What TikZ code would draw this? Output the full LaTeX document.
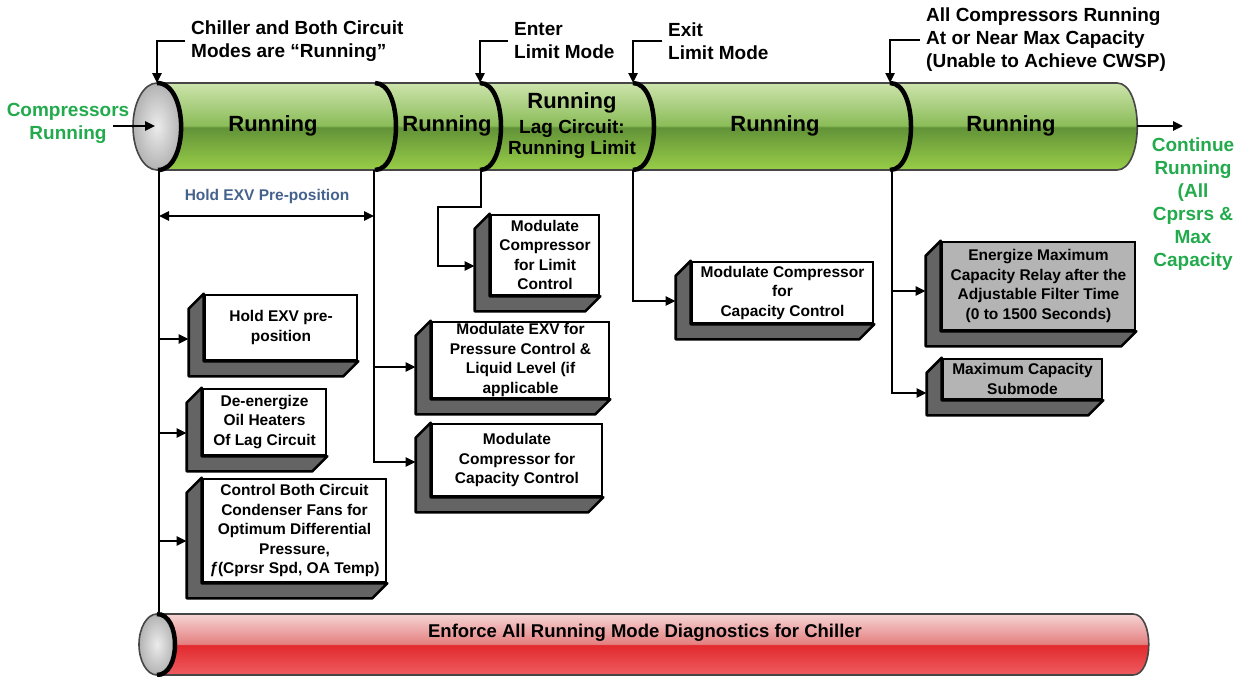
\documentclass[tikz,border=0pt]{standalone}
\usepackage{fontspec}
\setmainfont{Liberation Sans}
\usetikzlibrary{calc,arrows.meta}

% palette
\definecolor{lblgreen}{RGB}{34,170,76}
\definecolor{holdblue}{RGB}{68,98,140}
\definecolor{sidegray}{RGB}{100,100,100}
\definecolor{boxgray}{RGB}{180,180,180}
\definecolor{rimgray}{RGB}{70,70,70}
\definecolor{gTop}{RGB}{205,228,172}
\definecolor{gMid}{RGB}{138,188,88}
\definecolor{gDark}{RGB}{98,146,56}
\definecolor{gBot}{RGB}{152,206,72}
\definecolor{rTop}{RGB}{246,212,212}
\definecolor{rMid}{RGB}{228,128,128}
\definecolor{rDark}{RGB}{226,42,46}
\definecolor{rBot}{RGB}{238,92,96}

% glossy tube shadings (bottom to top)
\pgfdeclareverticalshading{greentube}{100bp}{color(0bp)=(gBot); color(25bp)=(gBot); color(49.5bp)=(gDark); color(50.5bp)=(gMid); color(75bp)=(gTop); color(100bp)=(gTop)}
\pgfdeclareverticalshading{redtube}{100bp}{color(0bp)=(rBot); color(25bp)=(rBot); color(49.5bp)=(rDark); color(50.5bp)=(rMid); color(75bp)=(rTop); color(100bp)=(rTop)}

\newcommand\setfs[2]{\fontsize{#1}{#2}\selectfont\bfseries}

% left/bottom bevel of a box node, plus the point where its arrow lands
\newcommand\boxside[2]{%
  \filldraw[side] (#1.north west) -- ++(-15,15) -- ($(#1.south west)+(-15,15)$)
     -- ($(#1.south east)+(-15,15)$) -- (#1.south east) -- (#1.south west) -- cycle;
  \coordinate (#1s) at ($(#1.west)+(-15,#2)$);}

\begin{document}
\begin{tikzpicture}[x=1pt,y=-1pt,
  arr/.style={-{Triangle[length=10pt,width=9pt]}, line width=2.4pt},
  darr/.style={{Triangle[length=10pt,width=9pt]}-{Triangle[length=10pt,width=9pt]}, line width=2.4pt},
  ln/.style={line width=2.4pt},
  sep/.style={line width=4.5pt},
  rim/.style={draw=rimgray, line width=1.6pt},
  bx/.style={draw=black, fill=white, line width=2.6pt, inner sep=1pt, align=center, font=\setfs{15.5}{19.5}},
  gbx/.style={bx, fill=boxgray},
  side/.style={fill=sidegray, draw=black, line width=2.6pt, line join=round},
  toplbl/.style={anchor=west, inner xsep=6pt, inner ysep=0pt, align=left, font=\setfs{19}{23}},
  seglbl/.style={font=\setfs{22}{24}},
  grnlbl/.style={text=lblgreen, align=center, font=\setfs{19}{23}}]
\useasboundingbox (0,0) rectangle (1239,677);

% ---------- upper (green) tube ----------
\shade[shading=greentube] (157,83) -- (1117,83) .. controls (1144,83) and (1144,170) .. (1117,170) -- (157,170) -- cycle;
\draw[rim] (157,83) -- (1117,83) .. controls (1144,83) and (1144,170) .. (1117,170) -- (157,170);
\shadedraw[inner color=gray!15, outer color=gray!60, rim] (157,126.5) ellipse [x radius=24, y radius=43.5];
\draw[sep] (157,83) .. controls (189,83) and (189,170) .. (158,170);
\foreach \sx in {375,480,633,890}
  \draw[sep] (\sx,83) .. controls (\sx+28,83) and (\sx+28,170) .. (\sx,170);

% ---------- lower (red) tube ----------
\shade[shading=redtube] (157,614) -- (1133,614) .. controls (1154,614) and (1154,675) .. (1133,675) -- (157,675) -- cycle;
\draw[rim] (157,614) -- (1133,614) .. controls (1154,614) and (1154,675) .. (1133,675) -- (157,675);
\shadedraw[inner color=gray!15, outer color=gray!60, rim] (157,644.5) ellipse [x radius=18, y radius=30.5];
\draw[sep] (157,614) .. controls (181,614) and (181,675) .. (157,675);
\node[font=\setfs{18.5}{22}] (diag) at (645,633) {Enforce All Running Mode Diagnostics for Chiller};

% ---------- tube labels ----------
\node[seglbl] (seg1) at (273,126) {Running};
\node[seglbl] (seg2) at (447,126) {Running};
\node[align=center, font=\setfs{19}{21.5}] (seg3) at (572,126)
  {{\setfs{22}{24}Running}\\[3pt]Lag Circuit:\\Running Limit};
\node[seglbl] (seg4) at (775,126) {Running};
\node[seglbl] (seg5) at (1011,126) {Running};

% ---------- event callouts ----------
\coordinate (p0) at (157,83);
\coordinate (p2) at (480,83);
\coordinate (p3) at (633,83);
\coordinate (p4) at (890,83);
\node[toplbl] (lab1) at (185,41) {Chiller and Both Circuit\\Modes are “Running”};
\node[toplbl] (lab2) at (508,41) {Enter\\Limit Mode};
\node[toplbl] (lab3) at (662,41) {Exit\\Limit Mode};
\node[toplbl] (lab4) at (920,40) {All Compressors Running\\At or Near Max Capacity\\(Unable to Achieve CWSP)};
\draw[arr] (lab1.west) -| (p0);
\draw[arr] (lab2.west) -| (p2);
\draw[arr] (lab3.west) -| (p3);
\draw[arr] (lab4.west) -| (p4);

% entry and exit
\node[grnlbl] (cmp) at (68,123) {Compressors\\Running};
\coordinate (cmpA) at (113,126);
\coordinate (capc) at (155,126);
\draw[arr] (cmpA) -- (capc);
\coordinate (tubeEnd) at (1137,126);
\coordinate (contA) at (1183,126);
\draw[arr] (tubeEnd) -- (contA);
\node[grnlbl] (cont) at (1193,204) {Continue\\Running\\(All\\Cprsrs \&\\Max\\Capacity};

% ---------- action boxes ----------
\node[bx, minimum width=152, minimum height=65] (b1) at (281,327.5) {Hold EXV pre-\\position};
\node[bx, minimum width=123, minimum height=66] (b2) at (264.5,422) {De-energize\\Oil Heaters\\Of Lag Circuit};
\node[bx, minimum width=183, minimum height=103] (b3) at (294.5,530.5)
  {Control Both Circuit\\Condenser Fans for\\Optimum Differential\\Pressure,\\\textit{ƒ}(Cprsr Spd, OA Temp)};
\node[bx, minimum width=108, minimum height=80] (b4) at (545,255) {Modulate\\Compressor\\for Limit\\Control};
\node[bx, minimum width=177, minimum height=76] (b5) at (520.5,360) {Modulate EXV for\\Pressure Control \&\\Liquid Level (if\\applicable};
\node[bx, minimum width=170, minimum height=72] (b6) at (517,460) {Modulate\\Compressor for\\Capacity Control};
\node[bx, minimum width=181, minimum height=61] (b7) at (782.5,292.5) {Modulate Compressor\\for\\Capacity Control};
\node[gbx, minimum width=193, minimum height=88] (b8) at (1038.5,286) {Energize Maximum\\Capacity Relay after the\\Adjustable Filter Time\\(0 to 1500 Seconds)};
\node[gbx, minimum width=159, minimum height=40] (b9) at (1022.5,379) {Maximum Capacity\\Submode};

\boxside{b1}{11.5}
\boxside{b2}{11}
\boxside{b3}{10.5}
\boxside{b4}{11}
\boxside{b5}{7}
\boxside{b6}{2}
\boxside{b7}{8.5}
\boxside{b8}{5}
\boxside{b9}{14}

% ---------- branch connectors ----------
\coordinate (t0) at (159,170);
\coordinate (r0) at (159,614);
\coordinate (t1) at (374,170);
\coordinate (t2) at (481,170);
\coordinate (t3) at (633,170);
\coordinate (t4) at (892,170);
\coordinate (k4) at (438,207);

\draw[ln] (t0) -- (r0);
\draw[arr] (t0) |- (b1s);
\draw[arr] (t0) |- (b2s);
\draw[arr] (t0) |- (b3s);

\draw[ln] (t1) -- (374,216);
\draw[arr] (t1) |- (b5s);
\draw[arr] (t1) |- (b6s);

\draw[arr] (t2) |- (k4) |- (b4s);
\draw[arr] (t3) |- (b7s);
\draw[arr] (t4) |- (b8s);
\draw[arr] (t4) |- (b9s);

% hold span
\coordinate (h0) at (159,216);
\coordinate (h1) at (374,216);
\draw[darr] (h0) -- (h1);
\node[text=holdblue, font=\setfs{15.5}{18}] (holdlbl) at (267,196) {Hold EXV Pre-position};
\end{tikzpicture}
\end{document}
